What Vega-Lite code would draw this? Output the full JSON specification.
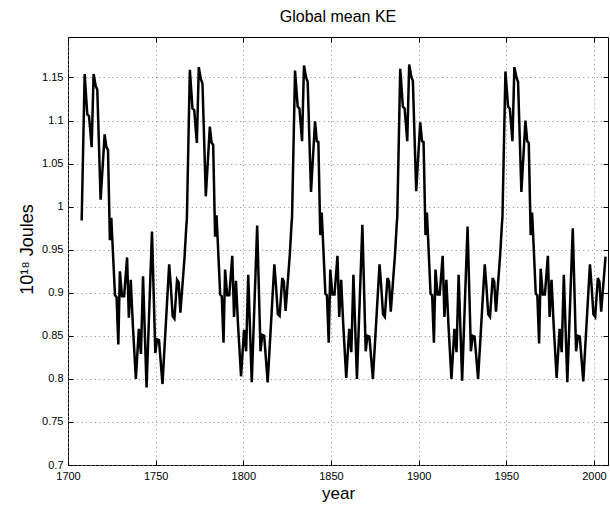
{
  "$schema": "https://vega.github.io/schema/vega-lite/v6.json",
  "width": 540,
  "height": 428,
  "autosize": {"type": "none"},
  "padding": {"left": 68, "top": 37, "right": 2, "bottom": 41},
  "background": "white",
  "config": {
    "view": {"stroke": "black", "strokeWidth": 1},
    "font": "Liberation Sans",
    "axis": {
      "labelFont": "Liberation Sans",
      "labelFontSize": 11,
      "labelColor": "black",
      "tickColor": "black",
      "tickSize": -5,
      "domain": false,
      "titleFont": "Liberation Sans",
      "titleFontSize": 17,
      "titleFontWeight": "normal",
      "titleColor": "black"
    }
  },
  "title": {"text": "Global mean KE", "font": "Liberation Sans", "fontSize": 16, "fontWeight": "normal", "color": "black", "offset": 12},
  "data": {
    "values": [
      {"year": 1707.8, "ke": 0.984}, {"year": 1709.5, "ke": 1.154}, {"year": 1711.0, "ke": 1.107}, {"year": 1712.0, "ke": 1.105},
      {"year": 1713.5, "ke": 1.069}, {"year": 1714.6, "ke": 1.154}, {"year": 1715.8, "ke": 1.140}, {"year": 1716.7, "ke": 1.136},
      {"year": 1718.6, "ke": 1.008}, {"year": 1720.9, "ke": 1.084}, {"year": 1721.9, "ke": 1.069}, {"year": 1722.8, "ke": 1.066},
      {"year": 1723.9, "ke": 0.961}, {"year": 1724.7, "ke": 0.987}, {"year": 1725.3, "ke": 0.961}, {"year": 1726.8, "ke": 0.897},
      {"year": 1727.7, "ke": 0.895}, {"year": 1728.7, "ke": 0.840}, {"year": 1729.6, "ke": 0.925}, {"year": 1730.8, "ke": 0.896},
      {"year": 1732.0, "ke": 0.896}, {"year": 1733.7, "ke": 0.941}, {"year": 1734.7, "ke": 0.871}, {"year": 1735.8, "ke": 0.915},
      {"year": 1737.0, "ke": 0.862}, {"year": 1738.7, "ke": 0.800}, {"year": 1740.4, "ke": 0.858}, {"year": 1741.6, "ke": 0.829},
      {"year": 1742.8, "ke": 0.919}, {"year": 1744.8, "ke": 0.790}, {"year": 1747.9, "ke": 0.971}, {"year": 1749.8, "ke": 0.830},
      {"year": 1750.8, "ke": 0.846}, {"year": 1751.9, "ke": 0.845}, {"year": 1753.9, "ke": 0.794}, {"year": 1757.7, "ke": 0.933},
      {"year": 1758.6, "ke": 0.909}, {"year": 1759.7, "ke": 0.873}, {"year": 1760.7, "ke": 0.870}, {"year": 1762.2, "ke": 0.915},
      {"year": 1763.1, "ke": 0.912}, {"year": 1764.1, "ke": 0.877}, {"year": 1766.5, "ke": 0.942}, {"year": 1767.5, "ke": 0.978},

      {"year": 1767.8, "ke": 0.986}, {"year": 1769.5, "ke": 1.159}, {"year": 1771.0, "ke": 1.114}, {"year": 1772.0, "ke": 1.112},
      {"year": 1773.5, "ke": 1.074}, {"year": 1774.6, "ke": 1.162}, {"year": 1775.8, "ke": 1.148}, {"year": 1776.7, "ke": 1.143},
      {"year": 1778.6, "ke": 1.012}, {"year": 1780.9, "ke": 1.093}, {"year": 1781.9, "ke": 1.074}, {"year": 1782.8, "ke": 1.072},
      {"year": 1783.9, "ke": 0.965}, {"year": 1784.7, "ke": 0.990}, {"year": 1785.3, "ke": 0.965}, {"year": 1786.8, "ke": 0.898},
      {"year": 1787.7, "ke": 0.896}, {"year": 1788.7, "ke": 0.842}, {"year": 1789.6, "ke": 0.927}, {"year": 1790.8, "ke": 0.897},
      {"year": 1792.0, "ke": 0.897}, {"year": 1793.7, "ke": 0.943}, {"year": 1794.7, "ke": 0.872}, {"year": 1795.8, "ke": 0.914},
      {"year": 1797.0, "ke": 0.862}, {"year": 1798.7, "ke": 0.803}, {"year": 1800.4, "ke": 0.857}, {"year": 1801.6, "ke": 0.832},
      {"year": 1802.8, "ke": 0.921}, {"year": 1804.8, "ke": 0.796}, {"year": 1807.9, "ke": 0.978}, {"year": 1809.8, "ke": 0.832},
      {"year": 1810.8, "ke": 0.851}, {"year": 1811.9, "ke": 0.850}, {"year": 1813.9, "ke": 0.796}, {"year": 1817.7, "ke": 0.933},
      {"year": 1818.6, "ke": 0.909}, {"year": 1819.7, "ke": 0.875}, {"year": 1820.7, "ke": 0.873}, {"year": 1822.2, "ke": 0.917},
      {"year": 1823.1, "ke": 0.913}, {"year": 1824.1, "ke": 0.879}, {"year": 1826.5, "ke": 0.944}, {"year": 1827.5, "ke": 0.980},

      {"year": 1827.8, "ke": 0.988}, {"year": 1829.5, "ke": 1.158}, {"year": 1831.0, "ke": 1.116}, {"year": 1832.0, "ke": 1.114},
      {"year": 1833.5, "ke": 1.076}, {"year": 1834.6, "ke": 1.164}, {"year": 1835.8, "ke": 1.150}, {"year": 1836.7, "ke": 1.145},
      {"year": 1838.6, "ke": 1.017}, {"year": 1840.9, "ke": 1.099}, {"year": 1841.9, "ke": 1.076}, {"year": 1842.8, "ke": 1.075},
      {"year": 1843.9, "ke": 0.967}, {"year": 1844.7, "ke": 0.993}, {"year": 1845.3, "ke": 0.967}, {"year": 1846.8, "ke": 0.899},
      {"year": 1847.7, "ke": 0.897}, {"year": 1848.7, "ke": 0.842}, {"year": 1849.6, "ke": 0.927}, {"year": 1850.8, "ke": 0.898},
      {"year": 1852.0, "ke": 0.898}, {"year": 1853.7, "ke": 0.943}, {"year": 1854.7, "ke": 0.872}, {"year": 1855.8, "ke": 0.915},
      {"year": 1857.0, "ke": 0.863}, {"year": 1858.7, "ke": 0.801}, {"year": 1860.4, "ke": 0.858}, {"year": 1861.6, "ke": 0.831},
      {"year": 1862.8, "ke": 0.921}, {"year": 1864.8, "ke": 0.800}, {"year": 1867.9, "ke": 0.979}, {"year": 1869.8, "ke": 0.832},
      {"year": 1870.8, "ke": 0.850}, {"year": 1871.9, "ke": 0.849}, {"year": 1873.9, "ke": 0.800}, {"year": 1877.7, "ke": 0.933},
      {"year": 1878.6, "ke": 0.909}, {"year": 1879.7, "ke": 0.875}, {"year": 1880.7, "ke": 0.872}, {"year": 1882.2, "ke": 0.917},
      {"year": 1883.1, "ke": 0.913}, {"year": 1884.1, "ke": 0.878}, {"year": 1886.5, "ke": 0.944}, {"year": 1887.5, "ke": 0.980},

      {"year": 1887.8, "ke": 0.988}, {"year": 1889.5, "ke": 1.160}, {"year": 1891.0, "ke": 1.116}, {"year": 1892.0, "ke": 1.114},
      {"year": 1893.5, "ke": 1.076}, {"year": 1894.6, "ke": 1.165}, {"year": 1895.8, "ke": 1.151}, {"year": 1896.7, "ke": 1.146},
      {"year": 1898.6, "ke": 1.018}, {"year": 1900.9, "ke": 1.098}, {"year": 1901.9, "ke": 1.076}, {"year": 1902.8, "ke": 1.075},
      {"year": 1903.9, "ke": 0.967}, {"year": 1904.7, "ke": 0.993}, {"year": 1905.3, "ke": 0.967}, {"year": 1906.8, "ke": 0.899},
      {"year": 1907.7, "ke": 0.897}, {"year": 1908.7, "ke": 0.842}, {"year": 1909.6, "ke": 0.927}, {"year": 1910.8, "ke": 0.898},
      {"year": 1912.0, "ke": 0.898}, {"year": 1913.7, "ke": 0.943}, {"year": 1914.7, "ke": 0.872}, {"year": 1915.8, "ke": 0.915},
      {"year": 1917.0, "ke": 0.863}, {"year": 1918.7, "ke": 0.800}, {"year": 1920.4, "ke": 0.858}, {"year": 1921.6, "ke": 0.831},
      {"year": 1922.8, "ke": 0.921}, {"year": 1924.8, "ke": 0.798}, {"year": 1927.9, "ke": 0.977}, {"year": 1929.8, "ke": 0.832},
      {"year": 1930.8, "ke": 0.850}, {"year": 1931.9, "ke": 0.849}, {"year": 1933.9, "ke": 0.800}, {"year": 1937.7, "ke": 0.933},
      {"year": 1938.6, "ke": 0.909}, {"year": 1939.7, "ke": 0.875}, {"year": 1940.7, "ke": 0.872}, {"year": 1942.2, "ke": 0.917},
      {"year": 1943.1, "ke": 0.913}, {"year": 1944.1, "ke": 0.878}, {"year": 1946.5, "ke": 0.944}, {"year": 1947.5, "ke": 0.980},

      {"year": 1947.8, "ke": 0.988}, {"year": 1949.5, "ke": 1.157}, {"year": 1951.0, "ke": 1.116}, {"year": 1952.0, "ke": 1.114},
      {"year": 1953.5, "ke": 1.076}, {"year": 1954.6, "ke": 1.162}, {"year": 1955.8, "ke": 1.150}, {"year": 1956.7, "ke": 1.145},
      {"year": 1958.6, "ke": 1.017}, {"year": 1960.9, "ke": 1.100}, {"year": 1961.9, "ke": 1.076}, {"year": 1962.8, "ke": 1.074},
      {"year": 1963.9, "ke": 0.967}, {"year": 1964.7, "ke": 0.993}, {"year": 1965.3, "ke": 0.967}, {"year": 1966.8, "ke": 0.899},
      {"year": 1967.7, "ke": 0.897}, {"year": 1968.7, "ke": 0.841}, {"year": 1969.6, "ke": 0.928}, {"year": 1970.8, "ke": 0.898},
      {"year": 1972.0, "ke": 0.898}, {"year": 1973.7, "ke": 0.943}, {"year": 1974.7, "ke": 0.872}, {"year": 1975.8, "ke": 0.915},
      {"year": 1977.0, "ke": 0.863}, {"year": 1978.7, "ke": 0.801}, {"year": 1980.4, "ke": 0.858}, {"year": 1981.6, "ke": 0.831},
      {"year": 1982.8, "ke": 0.921}, {"year": 1984.8, "ke": 0.796}, {"year": 1987.9, "ke": 0.975}, {"year": 1989.8, "ke": 0.832},
      {"year": 1990.8, "ke": 0.850}, {"year": 1991.9, "ke": 0.849}, {"year": 1993.9, "ke": 0.797}, {"year": 1997.7, "ke": 0.933},
      {"year": 1998.6, "ke": 0.909}, {"year": 1999.7, "ke": 0.875}, {"year": 2000.7, "ke": 0.872}, {"year": 2002.2, "ke": 0.917},
      {"year": 2003.1, "ke": 0.913}, {"year": 2004.1, "ke": 0.878}, {"year": 2006.6, "ke": 0.942}
    ]
  },
  "layer": [
    {
      "mark": {"type": "line", "color": "black", "strokeWidth": 2.5, "strokeJoin": "miter", "clip": true},
      "encoding": {
        "x": {
          "field": "year", "type": "quantitative",
          "scale": {"domain": [1700, 2008], "nice": false, "zero": false},
          "axis": {
            "orient": "bottom",
            "values": [1700, 1750, 1800, 1850, 1900, 1950, 2000],
            "format": "d",
            "labelPadding": 10,
            "labelFlush": false,
            "labelOverlap": false,
            "grid": true,
            "gridColor": "#888888",
            "gridDash": [1, 3.4],
            "gridWidth": 1,
            "title": "year",
            "titleY": 33,
            "titleBaseline": "alphabetic"
          }
        },
        "y": {
          "field": "ke", "type": "quantitative",
          "scale": {"domain": [0.7, 1.197], "nice": false, "zero": false},
          "axis": {
            "orient": "left",
            "values": [0.7, 0.75, 0.8, 0.85, 0.9, 0.95, 1, 1.05, 1.1, 1.15],
            "format": "~g",
            "labelPadding": 10,
            "labelFlush": false,
            "labelOverlap": false,
            "grid": true,
            "gridColor": "#888888",
            "gridDash": [1, 3.4],
            "gridWidth": 1,
            "title": "10¹⁸ Joules",
            "titleFontSize": 18,
            "titleX": -36,
            "titleY": 212,
            "titleBaseline": "alphabetic"
          }
        }
      }
    },
    {
      "mark": {"type": "line", "strokeOpacity": 0},
      "encoding": {
        "x": {
          "field": "year", "type": "quantitative",
          "axis": {"orient": "top", "values": [1700, 1750, 1800, 1850, 1900, 1950, 2000], "labels": false, "grid": false, "title": null}
        },
        "y": {
          "field": "ke", "type": "quantitative",
          "axis": {"orient": "right", "values": [0.7, 0.75, 0.8, 0.85, 0.9, 0.95, 1, 1.05, 1.1, 1.15], "labels": false, "grid": false, "title": null}
        }
      }
    }
  ],
  "resolve": {"axis": {"x": "independent", "y": "independent"}}
}
